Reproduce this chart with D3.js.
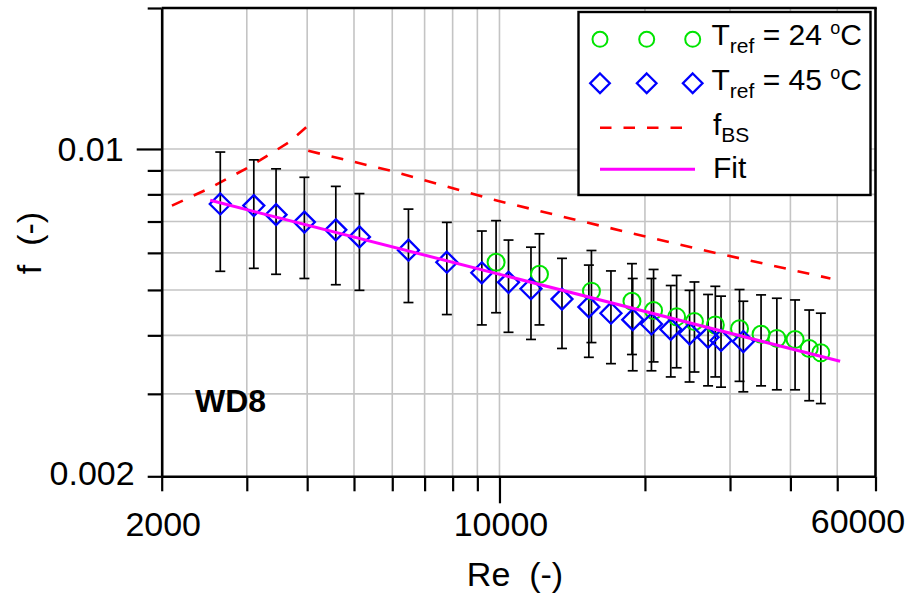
<!DOCTYPE html>
<html><head><meta charset="utf-8">
<script src="https://cdn.jsdelivr.net/npm/d3@7"></script>
<style>
body{margin:0;background:#fff}
svg{display:block}
text{font-family: Arial, "Liberation Sans", sans-serif; fill:#000}
</style>
</head><body>
<svg id="c" width="909" height="594"></svg>
<script>
// ---------- data ----------
const reT24 = [9840, 12100, 15500, 18800, 20840, 23260, 25320, 27970, 31390, 34780, 37500, 40900, 43750, 46240];
const fT24 = [0.00573, 0.00540, 0.00497, 0.00473, 0.00452, 0.00438, 0.00428, 0.00421, 0.00413, 0.00402, 0.00394, 0.00392, 0.00375, 0.00367];
const fT24Upper = [0.00703, 0.00659, 0.00607, 0.00569, 0.00553, 0.00537, 0.00520, 0.00509, 0.00501, 0.00488, 0.00480, 0.00476, 0.00453, 0.00446];
const fT24Lower = [0.00447, 0.00421, 0.00386, 0.00364, 0.00351, 0.00341, 0.00334, 0.00326, 0.00319, 0.00312, 0.00306, 0.00306, 0.00290, 0.00286];

const reT45 = [2644, 3102, 3449, 3947, 4585, 5131, 6481, 7782, 9194, 10440, 11620, 13470, 15310, 17010, 18870, 20630, 22620, 24740, 27020, 28740, 31960];
const fT45 = [0.00763, 0.00757, 0.00724, 0.00698, 0.00672, 0.00649, 0.00608, 0.00573, 0.00544, 0.00519, 0.00503, 0.00478, 0.00460, 0.00446, 0.00432, 0.00423, 0.00412, 0.00403, 0.00396, 0.00390, 0.00388];
const fT45Upper = [0.00985, 0.00948, 0.00907, 0.00870, 0.00832, 0.00803, 0.00744, 0.00697, 0.00668, 0.00639, 0.00617, 0.00584, 0.00565, 0.00549, 0.00529, 0.00529, 0.00511, 0.00499, 0.00489, 0.00485, 0.00473];
const fT45Lower = [0.00548, 0.00556, 0.00540, 0.00529, 0.00513, 0.00499, 0.00470, 0.00443, 0.00421, 0.00406, 0.00392, 0.00375, 0.00359, 0.00348, 0.00336, 0.00336, 0.00326, 0.00318, 0.00312, 0.00310, 0.00303];

const reBS1 = [2100, 2490, 3020, 3660, 4000];
const fBS1 = [0.00757, 0.00821, 0.00913, 0.01032, 0.01117];
const reBS2 = [4020, 5940, 9720, 15120, 26040, 48400];
const fBS2 = [0.00991, 0.00899, 0.00779, 0.00697, 0.00610, 0.00529];

const reFit = [2520, 50700];
const fFit = [0.00777, 0.00352];

const xTicks = [2000, 3000, 4000, 5000, 6000, 7000, 8000, 9000, 10000, 20000, 30000, 40000, 50000, 60000];
const xMajor = [10000];
const xTickLabels = [2000, 10000, 60000];
const yTicks = [0.002, 0.003, 0.004, 0.005, 0.006, 0.007, 0.008, 0.009, 0.01, 0.02];
const yMajor = [0.01];
const yTickLabels = [0.002, 0.01];

const legendLabels = ["24", "45"];

// ---------- chart ----------
const svg = d3.select('#c');
const L = 161.7, R = 875.5, T = 8, B = 476.3;
const x = d3.scaleLog().domain([2000, 60000]).range([L, R]);
const y = d3.scaleLog().domain([0.002, 0.02]).range([B, T]);

// grid
const grid = svg.append('g').attr('stroke', '#c4c4c4').attr('stroke-width', 1.6);
grid.selectAll('line.v').data(xTicks.filter(d => d > 2000 && d < 60000)).enter().append('line')
  .attr('x1', d => x(d)).attr('x2', d => x(d)).attr('y1', T).attr('y2', B);
grid.selectAll('line.h').data(yTicks.filter(d => d > 0.002 && d < 0.02)).enter().append('line')
  .attr('y1', d => y(d)).attr('y2', d => y(d)).attr('x1', L).attr('x2', R);

// f_BS (red dashed)
const line = d3.line().x(d => x(d[0])).y(d => y(d[1]));
[[reBS1, fBS1], [reBS2, fBS2]].forEach(([rs, fs]) => {
  svg.append('path').datum(rs.map((r, i) => [r, fs[i]]))
    .attr('d', line).attr('fill', 'none').attr('stroke', '#ff0000')
    .attr('stroke-width', 2.6).attr('stroke-dasharray', '12,12');
});

// error bars
function errBars(res, lo, hi) {
  const g = svg.append('g').attr('stroke', '#000').attr('stroke-width', 1.7);
  res.forEach((r, i) => {
    const cx = x(r);
    g.append('line').attr('x1', cx).attr('x2', cx).attr('y1', y(hi[i])).attr('y2', y(lo[i]));
    g.append('line').attr('x1', cx - 5).attr('x2', cx + 5).attr('y1', y(hi[i])).attr('y2', y(hi[i]));
    g.append('line').attr('x1', cx - 5).attr('x2', cx + 5).attr('y1', y(lo[i])).attr('y2', y(lo[i]));
  });
}
errBars(reT45, fT45Lower, fT45Upper);
errBars(reT24, fT24Lower, fT24Upper);

// circles T=24
const green = '#00e400', blue = '#0000ff';
svg.append('g').selectAll('circle').data(reT24.map((r, i) => [r, fT24[i]])).enter().append('circle')
  .attr('cx', d => x(d[0])).attr('cy', d => y(d[1])).attr('r', 8.5)
  .attr('fill', 'none').attr('stroke', green).attr('stroke-width', 2);

// diamonds T=45
const dia = s => `M0,${-s}L${s},0L0,${s}L${-s},0Z`;
svg.append('g').selectAll('path').data(reT45.map((r, i) => [r, fT45[i]])).enter().append('path')
  .attr('transform', d => `translate(${x(d[0])},${y(d[1])})`).attr('d', dia(10.5))
  .attr('fill', 'none').attr('stroke', blue).attr('stroke-width', 2.3);

// fit
svg.append('path').datum(reFit.map((r, i) => [r, fFit[i]]))
  .attr('d', line).attr('fill', 'none').attr('stroke', '#ff00ff').attr('stroke-width', 3);

// axes
const xAxis = d3.axisBottom(x).tickValues(xTicks).tickSizeOuter(0).tickSizeInner(15).tickPadding(0)
  .tickFormat(d => xTickLabels.includes(d) ? String(d) : '');
const gx = svg.append('g').attr('transform', `translate(0,${B})`).call(xAxis);
gx.selectAll('.tick line').attr('y2', d => xMajor.includes(d) ? 27 : 15);
gx.selectAll('.tick text').attr('dy', 0).attr('y', d => d === 60000 ? 57 : 60)
  .attr('x', d => d === 60000 ? -18 : 1);

const yAxis = d3.axisLeft(y).tickValues(yTicks).tickSizeOuter(0).tickSizeInner(14).tickPadding(0)
  .tickFormat(d => yTickLabels.includes(d) ? String(d) : '');
const gy = svg.append('g').attr('transform', `translate(${L},0)`).call(yAxis);
gy.selectAll('.tick line').attr('x2', d => yMajor.includes(d) ? -25 : -14);
gy.selectAll('.tick text').attr('x', d => yMajor.includes(d) ? -38 : -27)
  .attr('dy', d => d === 0.002 ? '0.25em' : '0.35em');

[gx, gy].forEach(g => {
  g.select('.domain').attr('stroke', '#000').attr('stroke-width', 2.6);
  g.selectAll('.tick line').attr('stroke', '#000').attr('stroke-width', 2.2);
  g.selectAll('.tick text').style('font-size', '34px').style('font-family', 'Arial, "Liberation Sans", sans-serif').attr('fill', '#000');
});
// top/right frame
svg.append('line').attr('x1', L).attr('x2', R + 1.3).attr('y1', T).attr('y2', T).attr('stroke', '#000').attr('stroke-width', 2.6);
svg.append('line').attr('x1', R).attr('x2', R).attr('y1', T).attr('y2', B).attr('stroke', '#000').attr('stroke-width', 2.6);

// axis titles
svg.append('text').attr('x', 515).attr('y', 586).attr('text-anchor', 'middle')
  .style('font-size', '34px').style('white-space', 'pre').text('Re  (-)');
svg.append('text').attr('transform', 'translate(41,243) rotate(-90)').attr('text-anchor', 'middle')
  .style('font-size', '34px').style('white-space', 'pre').text('f  (-)');

// annotation
svg.append('text').attr('x', 195).attr('y', 412).style('font-size', '32px').style('font-weight', 'bold').text('WD8');

// legend
const lg = svg.append('g');
lg.append('rect').attr('x', 578.5).attr('y', 12).attr('width', 292).attr('height', 183)
  .attr('fill', '#fff').attr('stroke', '#000').attr('stroke-width', 2.4);
const symX = [600, 646.7, 692.7];
lg.selectAll('circle').data(symX).enter().append('circle')
  .attr('cx', d => d).attr('cy', 39.3).attr('r', 7.5).attr('fill', 'none').attr('stroke', green).attr('stroke-width', 2);
lg.selectAll('path.d').data(symX).enter().append('path')
  .attr('transform', d => `translate(${d},83.3)`).attr('d', dia(9.8))
  .attr('fill', 'none').attr('stroke', blue).attr('stroke-width', 2.3);
lg.append('line').attr('x1', 600).attr('x2', 685).attr('y1', 127.7).attr('y2', 127.7)
  .attr('stroke', '#ff0000').attr('stroke-width', 2.6).attr('stroke-dasharray', '11.5,12');
lg.append('line').attr('x1', 600).attr('x2', 695).attr('y1', 169.3).attr('y2', 169.3)
  .attr('stroke', '#ff00ff').attr('stroke-width', 3);

function tref(yb, val) {
  const t = lg.append('text').attr('x', 711.5).attr('y', yb).style('font-size', '30px').style('white-space', 'pre');
  t.append('tspan').text('T');
  t.append('tspan').attr('dy', 8).style('font-size', '21px').text('ref');
  t.append('tspan').attr('dy', -8).text(' = ' + val + ' ');
  t.append('tspan').attr('dy', -11).style('font-size', '18px').text('o');
  t.append('tspan').attr('dy', 11).text('C');
}
tref(45, legendLabels[0]);
tref(90, legendLabels[1]);
const fb = lg.append('text').attr('x', 713).attr('y', 135).style('font-size', '30px');
fb.append('tspan').text('f');
fb.append('tspan').attr('dy', 7).style('font-size', '21px').text('BS');
lg.append('text').attr('x', 713).attr('y', 178).style('font-size', '30px').text('Fit');
</script>
</body></html>
